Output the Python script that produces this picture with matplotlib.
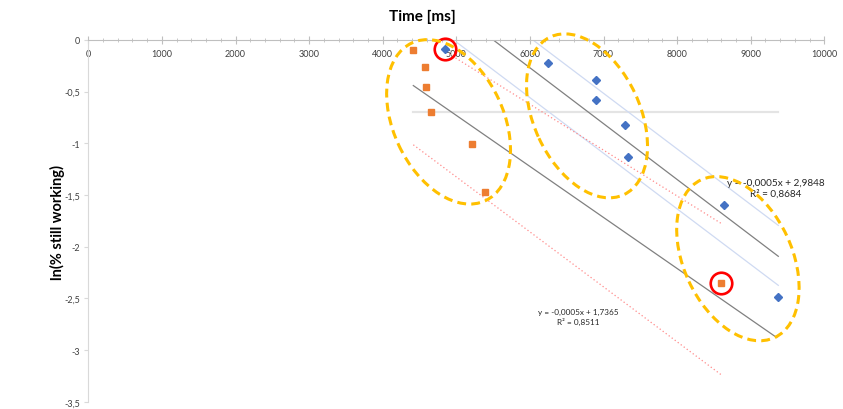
import matplotlib
matplotlib.use("Agg")
import matplotlib.pyplot as plt
import matplotlib.transforms as mtransforms
from matplotlib.patches import Ellipse
import numpy as np

plt.rcParams['font.family'] = ['Lato', 'DejaVu Sans']

# ---- data ----
blue_x = [4851, 6250, 6894, 6902, 7296, 7337, 8633, 9371]
blue_y = [-0.087, -0.225, -0.386, -0.580, -0.820, -1.133, -1.594, -2.483]
orange_x = [4407, 4579, 4592, 4652, 5209, 5394, 8596]
orange_y = [-0.100, -0.258, -0.451, -0.693, -1.008, -1.469, -2.354]

# trend lines (x-range, y at ends)
blue_trend_x = [5503, 9375]
blue_trend_y = [0.0, -2.093]
blue_upper_x = [6042, 9375]
blue_upper_y = [0.0, -1.794]
blue_lower_x = [5005, 9375]
blue_lower_y = [-0.022, -2.374]
orange_trend_x = [4416, 9353]
orange_trend_y = [-0.441, -2.879]
orange_upper_x = [4860, 8606]
orange_upper_y = [-0.116, -1.778]
orange_lower_x = [4416, 8606]
orange_lower_y = [-1.014, -3.243]
half_x = [4416, 9366]
half_y = [-0.693, -0.693]

eq_blue = "y = -0,0005x + 2,9848\nR² = 0,8684"
eq_orange = "y = -0,0005x + 1,7365\nR² = 0,8511"

# annotation ellipses: centre (data), width, height (inches), angle
ellipse_centres = [(4895, -0.792), (6776, -0.734), (8826, -2.116)]
ellipse_sizes = [(1.74, 1.10), (1.74, 1.06), (1.74, 1.08)]
circled_x = [4851, 8596]
circled_y = [-0.087, -2.354]

x_ticks = list(range(0, 10001, 1000))
y_ticks = [0, -0.5, -1, -1.5, -2, -2.5, -3, -3.5]

fig = plt.figure(figsize=(8.43, 4.10), dpi=100)
ax = fig.add_axes([88.3 / 843, 1 - 402.7 / 410, (824.3 - 88.3) / 843, (402.7 - 41) / 410])
ax.set_xlim(0, 10000)
ax.set_ylim(-3.5, 0)

# lines
ax.plot(half_x, half_y, color='#e4e4e4', lw=1.6, zorder=1)
ax.plot(blue_upper_x, blue_upper_y, color='#cfdaf2', lw=0.9, zorder=2)
ax.plot(blue_lower_x, blue_lower_y, color='#cfdaf2', lw=0.9, zorder=2)
ax.plot(blue_trend_x, blue_trend_y, color='#808080', lw=0.9, zorder=2)
ax.plot(orange_trend_x, orange_trend_y, color='#808080', lw=0.9, zorder=2)
ax.plot(orange_upper_x, orange_upper_y, color='#ff8a8a', lw=0.9, ls=(0, (1, 2)), zorder=2)
ax.plot(orange_lower_x, orange_lower_y, color='#ff8a8a', lw=0.9, ls=(0, (1, 2)), zorder=2)

# points
ax.plot(blue_x, blue_y, ls='none', marker='D', color='#4472c4', ms=4.0, zorder=4)
ax.plot(orange_x, orange_y, ls='none', marker='s', color='#ed7d31', ms=3.8, zorder=4)

# red circles
ax.plot(circled_x, circled_y, ls='none', marker='o', ms=15.5, mfc='none', mec='#ff0000', mew=1.9,
        zorder=5, clip_on=False)

# ellipses
for (cx, cy), (w, h) in zip(ellipse_centres, ellipse_sizes):
    tr = fig.dpi_scale_trans + mtransforms.ScaledTranslation(cx, cy, ax.transData)
    e = Ellipse((0, 0), w, h, angle=-65, transform=tr, fill=False, edgecolor='#ffc000',
                lw=2.2, ls=(0, (2.9, 1.7)), zorder=6, clip_on=False)
    fig.add_artist(e)

# equations
ax.text(9340, -1.435, eq_blue, fontsize=7.2, color='#262626', ha='center', va='center',
        linespacing=1.2, zorder=7)
ax.text(6654, -2.676, eq_orange, fontsize=5.9, color='#262626', ha='center', va='center',
        linespacing=1.35, zorder=7)

# axes styling
for s in ['top', 'right']:
    ax.spines[s].set_visible(False)
ax.spines['bottom'].set_position(('data', 0))
ax.spines['bottom'].set_color('#bfbfbf')
ax.spines['left'].set_color('#d9d9d9')
ax.set_xticks(x_ticks)
ax.set_xticklabels([str(v) for v in x_ticks])
ax.set_xticks(np.arange(0, 10001, 200), minor=True)
ax.set_yticks(y_ticks)
ax.set_yticklabels([('%g' % v).replace('.', ',') for v in y_ticks])
ax.tick_params(axis='x', which='major', direction='inout', length=6, color='#bfbfbf',
               labelsize=6.5, labelcolor='#404040', pad=3.5)
ax.tick_params(axis='x', which='minor', direction='inout', length=3, color='#bfbfbf')
ax.tick_params(axis='y', which='major', direction='out', length=3, color='#d9d9d9',
               labelsize=6.5, labelcolor='#404040', pad=3)

fig.text(422 / 843, 1 - 17 / 410, 'Time [ms]', fontsize=11, fontweight='bold', ha='center', va='center')
fig.text(57 / 843, 1 - 222 / 410, 'ln(% still working)', fontsize=10.5, fontweight='bold',
         ha='center', va='center', rotation=90)

fig.savefig('out.png', dpi=100)
